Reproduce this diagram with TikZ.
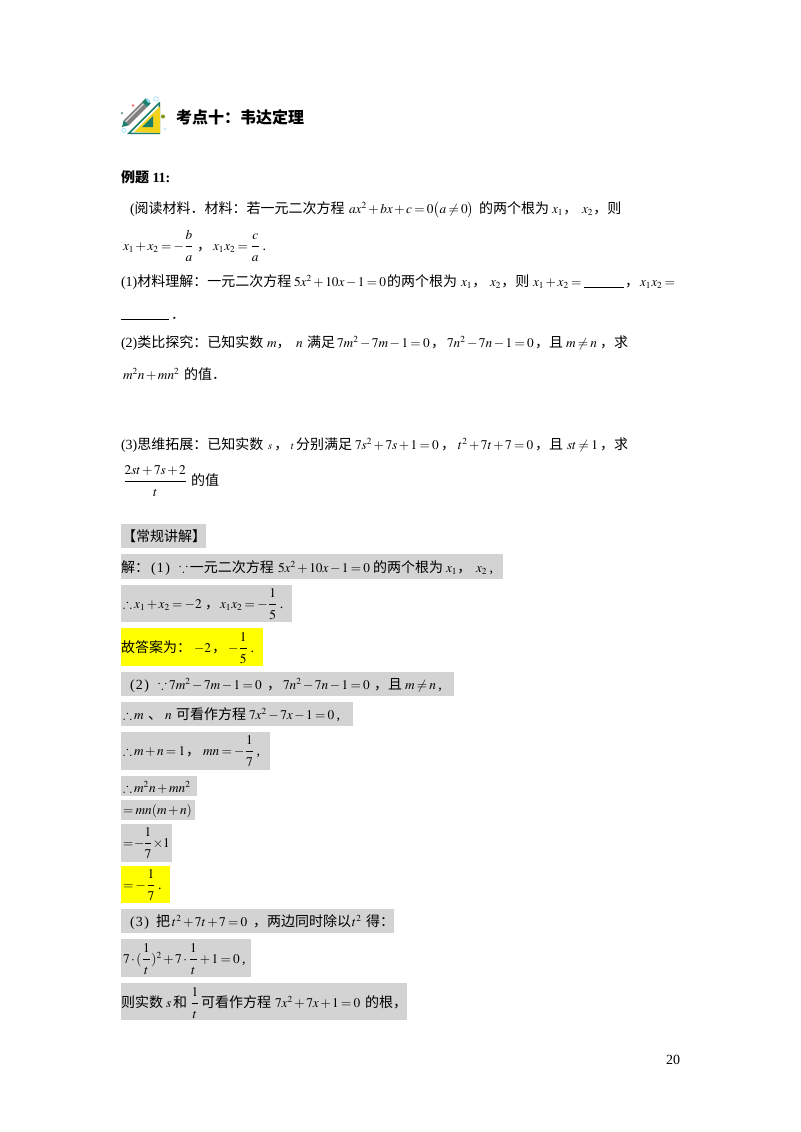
\documentclass[tikz,border=0pt]{standalone}
\usepackage{amsmath,amssymb}
\usepackage{mathptmx}
\usepackage[no-math]{fontspec}
\setmainfont{Liberation Serif}
\newfontfamily\cjk{Noto Sans CJK SC}
\DeclareMathSizes{10.5}{10}{7}{5}
\newcommand{\z}[1]{{\cjk #1}}
\newcommand{\Fr}[2]{\dfrac{\raisebox{1.2pt}{$#1$}}{\raisebox{-1.6pt}{$#2$}}}
\newcounter{nn}
\newcommand{\T}[3]{\stepcounter{nn}\node[txt] (t\thenn) at (#1,#2) {\thickmuskip=3mu\medmuskip=2mu #3};}
\newcommand{\HL}[5]{\fill[#5] (#1,#2) rectangle (#3,#4);}
\definecolor{hlgray}{HTML}{D3D3D3}
\definecolor{hlyellow}{HTML}{FFFF00}
\definecolor{icteal}{HTML}{1C7F6E}
\definecolor{icyel}{HTML}{F2D21B}
\definecolor{icgray}{HTML}{808080}
\tikzset{txt/.style={anchor=base west,inner sep=0pt,outer sep=0pt,font=\fontsize{10.5}{12}\selectfont}}
\begin{document}
\begin{tikzpicture}[x=0.75pt,y=-0.75pt]
\useasboundingbox (0,0) rectangle (800,1132);
\fill[white] (0,0) rectangle (800,1132);
% icon
\begin{scope}
\fill[icteal] (159,102) -- (127,134) -- (160,134) -- (160,102) -- cycle;
\fill[white] (158.5,105) -- (131,132.7) -- (158.5,132.7) -- cycle;
\fill[icyel] (158,108) -- (134,132) -- (160,133) -- (160,107) -- cycle;
\fill[icteal] (153,116) -- (142,127) -- (153,127) -- cycle;
\fill[icgray] (123.7,120.3) -- (142.1,101.9) -- (147.1,106.9) -- (128.7,125.3) -- cycle;
\draw[white!80!gray,line width=0.7pt] (125.4,122) -- (143.8,103.6);
\fill[icteal] (142.1,101.9) -- (145.7,98.3) -- (150.7,103.3) -- (147.1,106.9) -- cycle;
\fill[cyan!40] (146,100) -- (148,98.5) -- (150.5,101) -- (149,103) -- cycle;
\fill[icteal] (123.7,120.3) -- (128.7,125.3) -- (122,127) -- cycle;
\fill[red!60] (133,105.5) circle (1.3);
\fill[icteal] (122,113) circle (1);
\draw[cyan!40,line width=0.5pt] (156,99) circle (2.3);
\draw[cyan!40,line width=0.5pt] (124,130.5) circle (2);
\fill[olive!70!green] (163,116.5) circle (2);
\fill[cyan!25] (165,129) circle (1.3);
\end{scope}
% title
\T{176}{123}{\fontsize{12}{14}\selectfont\cjk\bfseries 考点十：韦达定理}
\T{121}{182}{\bfseries\z{例题} 11:}
% line 1
\T{130}{213}{(\z{阅读材料．材料：若一元二次方程}}
\T{349}{213}{$ax^2+bx+c=0\bigl(a\neq 0\bigr)$}
\T{479}{213}{\z{的两个根为}}
\T{552}{213}{$x_1$\z{，}}
\T{582}{213}{$x_2$\z{，则}}
% line 2
\T{123}{250}{$x_1+x_2=-\Fr{b}{a}$}
\T{197}{250}{\z{，}}
\T{213}{250}{$x_1x_2=\Fr{c}{a}$\,.}
% line 3
\T{121}{286}{(1)\z{材料理解：一元二次方程}}
\T{294}{286}{$5x^2+10x-1=0$}
\T{387}{286}{\z{的两个根为}}
\T{461}{286}{$x_1$\z{，}}
\T{490}{286}{$x_2$\z{，则}}
\T{533}{286}{$x_1+x_2=$}
\T{625}{286}{\z{，}}
\T{640}{286}{$x_1x_2=$}
\coordinate (u1a) at (584,287); \coordinate (u1b) at (624,287);
\draw[line width=0.6pt] (u1a) -- (u1b);
\coordinate (u2a) at (121,319); \coordinate (u2b) at (169,319);
\draw[line width=0.6pt] (u2a) -- (u2b);
\T{171}{319}{\z{．}}
% line 5
\T{121}{347}{(2)\z{类比探究：已知实数}}
\T{267}{347}{$m$\z{，}}
\T{296}{347}{$n$}
\T{307}{347}{\z{满足}}
\T{337}{347}{$7m^2-7m-1=0$}
\T{431}{347}{\z{，}}
\T{447}{347}{$7n^2-7n-1=0$}
\T{535}{347}{\z{，且}}
\T{566}{347}{$m\neq n$}
\T{600}{347}{\z{，求}}
% line 6
\T{123}{379}{$m^2n+mn^2$}
\T{184}{379}{\z{的值．}}
% line 7
\T{121}{449}{(3)\z{思维拓展：已知实数}}
\T{268}{449}{{\fontsize{8}{10}\selectfont$s$}\z{\,，}}
\T{291}{449}{{\fontsize{8}{10}\selectfont$t$}}
\T{296}{449}{\z{分别满足}}
\T{355}{449}{$7s^2+7s+1=0$}
\T{441}{449}{\z{，}}
\T{458}{449}{$t^2+7t+7=0$}
\T{535}{449}{\z{，且}}
\T{567}{449}{$st\neq 1$}
\T{600}{449}{\z{，求}}
\T{123}{485}{$\Fr{2st+7s+2}{t}$}
\T{191}{485}{\z{的值}}
% highlights
\HL{121}{524}{206}{548}{hlgray}
\HL{121}{554}{503}{579}{hlgray}
\HL{121}{585}{292}{622}{hlgray}
\HL{121}{628}{263}{666}{hlyellow}
\HL{121}{672}{454}{696}{hlgray}
\HL{121}{702}{353}{726}{hlgray}
\HL{121}{732}{270}{770}{hlgray}
\HL{121}{776}{197}{796}{hlgray}
\HL{121}{800}{195}{820}{hlgray}
\HL{121}{824}{172}{862}{hlgray}
\HL{121}{866}{170}{903}{hlyellow}
\HL{121}{909}{394}{933}{hlgray}
\HL{121}{939}{251}{977}{hlgray}
\HL{121}{983}{407}{1020}{hlgray}
% solution
\T{122}{541}{\z{【常规讲解】}}
\T{121}{572}{\z{解：}}
\T{151}{572}{(\kern1pt1\kern1pt)}
\T{179}{572}{$\because$\kern1.5pt\z{一元二次方程}}
\T{278}{572}{$5x^2+10x-1=0$}
\T{373}{572}{\z{的两个根为}}
\T{446}{572}{$x_1$\z{，}}
\T{476}{572}{$x_2$\,,}
\T{123}{608}{$\therefore x_1+x_2=-2$}
\T{205}{608}{\z{，}}
\T{220}{608}{$x_1x_2=-\Fr{1}{5}$\,.}
\T{121}{652}{\z{故答案为：}}
\T{194}{652}{$-2$}
\T{212}{652}{\z{，}}
\T{228}{652}{$-\Fr{1}{5}$\,.}
\T{130}{689}{(\kern1pt2\kern1pt)}
\T{158}{689}{$\because 7m^2-7m-1=0$}
\T{267}{689}{\z{，}}
\T{283}{689}{$7n^2-7n-1=0$}
\T{374}{689}{\z{，}}
\T{388}{689}{\z{且}}
\T{405}{689}{$m\neq n$\,,}
\T{123}{719}{$\therefore m$}
\T{148}{719}{\z{、}}
\T{165}{719}{$n$}
\T{176}{719}{\z{可看作方程}}
\T{249}{719}{$7x^2-7x-1=0$\,,}
\T{123}{755}{$\therefore m+n=1$}
\T{186}{755}{\z{，}}
\T{203}{755}{$mn=-\Fr{1}{7}$\,,}
\T{123}{792}{$\therefore m^2n+mn^2$}
\T{123}{814}{$=mn(m+n)$}
\T{123}{847}{$=\!-\!\Fr{1}{7}\!\times\! 1$}
\T{123}{889}{$=-\Fr{1}{7}$\,.}
\T{130}{926}{(\kern1pt3\kern1pt)}
\T{156}{926}{\z{把}}
\T{172}{926}{$t^2+7t+7=0$}
\T{253}{926}{\z{，两边同时除以}}
\T{352}{926}{$t^2$}
\T{366}{926}{\z{得：}}
\T{123}{963}{$7\cdot(\Fr{1}{t})^2+7\cdot\Fr{1}{t}+1=0$\,,}
\T{121}{1007}{\z{则实数}}
\T{166}{1007}{$s$}
\T{173}{1007}{\z{和}}
\T{190}{1007}{$\Fr{1}{t}$}
\T{201}{1007}{\z{可看作方程}}
\T{275}{1007}{$7x^2+7x+1=0$}
\T{365}{1007}{\z{的根，}}
\T{666}{1064}{20}
\end{tikzpicture}
\end{document}
